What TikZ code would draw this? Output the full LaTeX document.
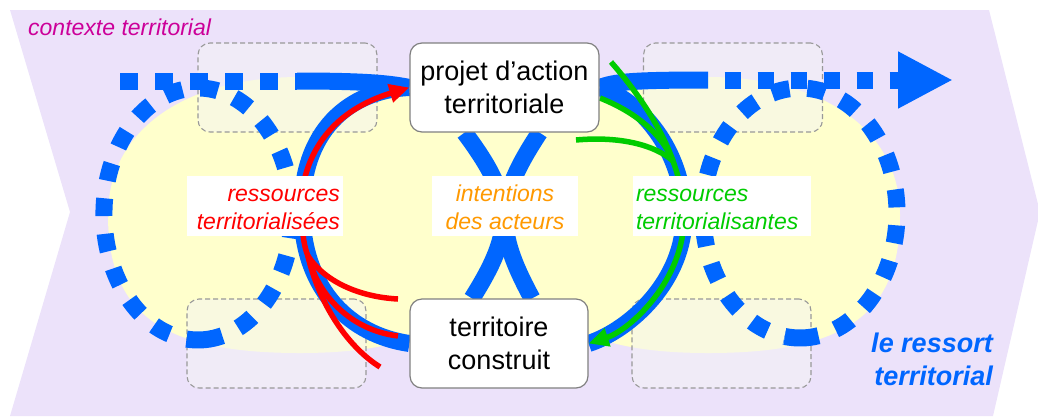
\documentclass[tikz,border=0pt]{standalone}
\usepackage{fontspec}
\setmainfont{Liberation Sans}
\usetikzlibrary{positioning, calc, arrows.meta}
\definecolor{ctxviolet}{RGB}{236,226,250}
\definecolor{blobyellow}{RGB}{255,255,204}
\definecolor{coilblue}{RGB}{0,102,255}
\definecolor{resred}{RGB}{255,0,0}
\definecolor{resgreen}{RGB}{0,204,0}
\definecolor{intorange}{RGB}{255,153,0}
\definecolor{ctxmagenta}{RGB}{204,0,153}
\definecolor{boxgray}{RGB}{128,128,128}
\tikzstyle{Coil} = [
%Thick blue line of the spring:
line width = 17pt, draw = coilblue, line cap = butt
]
\tikzstyle{CoilDots} = [Coil, dash pattern = on 17.4pt off 17.4pt]
\pgfdeclarelayer{back}
\pgfdeclarelayer{mid}
\pgfsetlayers{back,mid,main}

\begin{document}
\begin{tikzpicture}[
			x = 1pt, y = -1pt,
			box/.style = {rectangle, rounded corners = 12pt, draw = boxgray, line width = 1.2pt, fill = white, minimum width = 178pt, minimum height = 89pt, align = center, font = \fontsize{27}{33}\selectfont},
			zone/.style = {rectangle, rounded corners = 12pt, draw = black!40, line width = 1.1pt, dash pattern = on 5pt off 3pt, fill = gray!8, fill opacity = 0.5, minimum width = 179pt, minimum height = 89pt},
			tag/.style = {rectangle, fill = white, inner sep = 0pt, inner xsep = 3pt, minimum height = 60pt, font = \fontsize{23}{28}\selectfont\itshape},
			flow/.style = {line width = 5.5pt},
		]
		\useasboundingbox (0,0) rectangle (1038,416);

		\node[box, minimum width = 189pt] (proj) at (504.5,87.5) {projet d’action\\territoriale};
		\node[box] (terr) at (499,343.5) {territoire\\construit};

		\node[tag, text width = 150pt, align = right, text = resred] (resL) at (265,206) {\strut ressources\\territorialisées};
		\node[tag, minimum width = 146pt, align = center, text = intorange] (intent) at (505,206) {\strut intentions\\des acteurs};
		\node[tag, text width = 172pt, align = left, text = resgreen] (resR) at (722,206) {\strut ressources\\territorialisantes};

		\node[anchor = base west, inner sep = 0pt, text = ctxmagenta, font = \fontsize{23}{28}\selectfont\itshape] (ctx) at (28,35) {contexte territorial};
		\node[anchor = south east, inner sep = 0pt, align = right, text = coilblue, font = \fontsize{27}{33}\selectfont\bfseries\itshape] (spring) at (993,386) {le ressort\\territorial};

		\begin{pgfonlayer}{back}
			\fill[ctxviolet] (10,10) -- (989,10) -- (1040,212) -- (993,416) -- (10,416) -- (70,212) -- cycle;
			\fill[blobyellow] (108,215) .. controls (108,130) and (185,77) .. (300,77) .. controls (420,77) and (492,130) .. (492,215) .. controls (492,312) and (434,353) .. (300,353) .. controls (162,353) and (108,314) .. cycle;
			\fill[blobyellow] (900,215) .. controls (900,130) and (823,77) .. (708,77) .. controls (588,77) and (516,130) .. (516,215) .. controls (516,312) and (574,353) .. (708,353) .. controls (846,353) and (900,314) .. cycle;
			\fill[blobyellow] (415,105) rectangle (595,325);

			\node[zone] (zTL) at (287.5,87.5) {};
			\node[zone] (zTR) at (733,87.5) {};
			\node[zone] (zBL) at (276.5,343.5) {};
			\node[zone] (zBR) at (721.5,343.5) {};
		\end{pgfonlayer}

		\begin{pgfonlayer}{mid}
			\coordinate (dotL) at (120,81);
			\coordinate (solL) at (297,81);
			\coordinate (solR) at (708,80);
			\coordinate (tip) at (953,80);

			\draw[CoilDots, dash pattern = on 17.5pt off 17.5pt] (dotL) -- (solL);
			\draw[Coil] (solL) .. controls (370,81) and (392,84) .. (proj.west);
			\draw[Coil] (proj.east) .. controls (615,82) and (630,80) .. (solR);
			\draw[CoilDots, dash pattern = on 16.5pt off 16.5pt, dash phase = 16.5pt, -{Triangle[length = 55pt, width = 53pt]}] (solR) -- (tip);

			% dotted loops, each with one solid piece at the bottom
			\draw[Coil] (222.3,335.7) arc [start angle = 285, end angle = 263, x radius = 94pt, y radius = 126pt];
			\draw[CoilDots, dash pattern = on 17.8pt off 17.8pt, dash phase = 17.8pt] (222.3,335.7) arc [start angle = -75, end angle = 263, x radius = 94pt, y radius = 126pt];
			\draw[Coil] (818.5,335.7) arc [start angle = 281, end angle = 261, x radius = 97pt, y radius = 125pt];
			\draw[CoilDots, dash pattern = on 18pt off 18pt, dash phase = 18pt] (818.5,335.7) arc [start angle = -79, end angle = 261, x radius = 97pt, y radius = 125pt];

			\draw[Coil] (proj.west) .. controls (350,90) and (300,130) .. (302,215) .. controls (304,290) and (350,335) .. (terr.west);
			\draw[Coil] (proj.east) .. controls (640,100) and (683,150) .. (684,215) .. controls (685,280) and (630,330) .. (terr.east);
			\draw[Coil] ([xshift = -40pt]proj.south) .. controls (515,200) and (515,230) .. ([xshift = -27pt]terr.north);
			\draw[Coil] ([xshift = 35pt]proj.south) .. controls (495,200) and (495,230) .. ([xshift = 33pt]terr.north);

			\coordinate (redS) at (308,256);
			\coordinate (redA) at (398,299);
			\coordinate (redB) at (398,336);
			\coordinate (redC) at (380,367);
			\draw[flow, resred, -{Triangle[length = 20pt, width = 18pt]}] (redS) .. controls (301,240) and (300,205) .. (305,177) .. controls (318,128) and (355,104) .. (proj.west);
			\draw[flow, resred] (redS) .. controls (325,282) and (360,297) .. (redA);
			\draw[flow, resred] (redS) .. controls (318,295) and (350,330) .. (redB);
			\draw[flow, resred] (redS) .. controls (318,300) and (345,345) .. (redC);

			\coordinate (grnS) at (673,161);
			\coordinate (grnA) at (611,62);
			\coordinate (grnB) at (600,98);
			\coordinate (grnC) at (576,140);
			\draw[flow, resgreen, -{Triangle[length = 20pt, width = 18pt]}] (grnS) .. controls (680,180) and (684,200) .. (684,215) .. controls (685,280) and (630,330) .. (terr.east);
			\draw[flow, resgreen] (grnA) .. controls (640,95) and (662,130) .. (grnS);
			\draw[flow, resgreen] (grnB) .. controls (630,110) and (660,130) .. (grnS);
			\draw[flow, resgreen] (grnC) .. controls (620,136) and (655,145) .. (grnS);
		\end{pgfonlayer}

	\end{tikzpicture}
\end{document}
